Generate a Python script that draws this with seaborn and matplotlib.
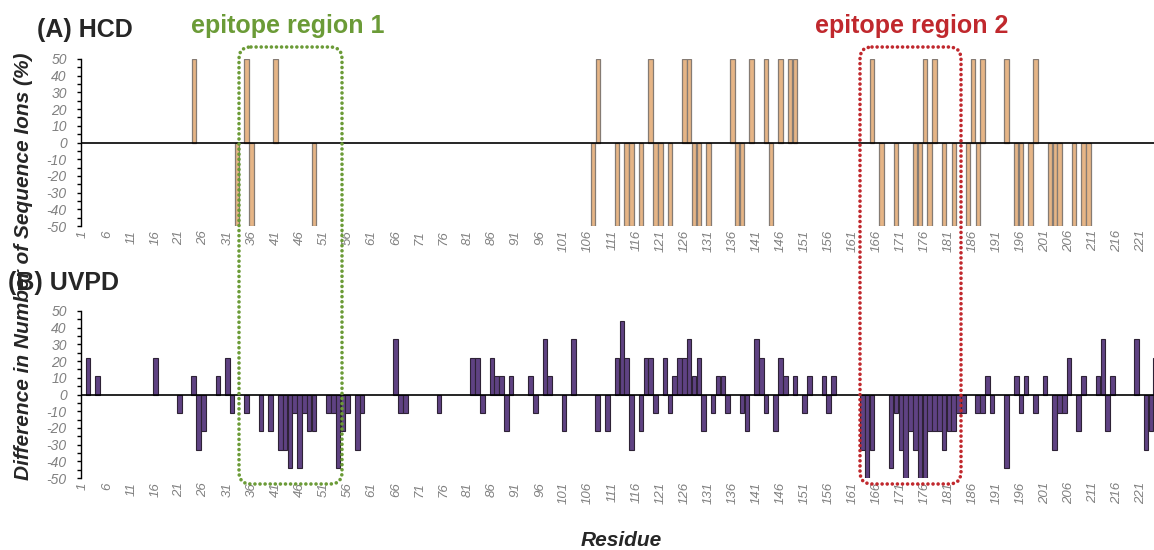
import numpy as np
import pandas as pd
import matplotlib.pyplot as plt
import seaborn as sns
from matplotlib.patches import FancyBboxPatch

# HCD: residues with +50 / -50 difference
hcd_up = [24, 35, 41, 108, 119, 126, 127, 136, 140, 143, 146, 148, 149,
          165, 176, 178, 186, 188, 193, 199]
hcd_down = [33, 36, 49, 107, 112, 114, 115, 117, 120, 121, 123, 128, 129,
            131, 137, 138, 144, 167, 170, 174, 175, 177, 180, 182, 185, 187,
            195, 196, 198, 202, 203, 204, 207, 209, 210]

# UVPD: residue -> difference (%)
uvpd_res = [2, 4, 16, 21, 24, 25, 26, 29, 31, 32, 35, 38, 40, 42, 43, 44, 45,
            46, 47, 48, 49, 52, 53, 54, 55, 56, 58, 59, 66, 67, 68, 75, 82,
            83, 84, 86, 87, 88, 89, 90, 94, 95, 97, 98, 101, 103, 108, 110,
            112, 113, 114, 115, 117, 118, 119, 120, 122, 123, 124, 125, 126,
            127, 128, 129, 130, 132, 133, 134, 135, 138, 139, 141, 142, 143,
            145, 146, 147, 149, 151, 152, 155, 156, 157, 163, 164, 165, 169,
            170, 171, 172, 173, 174, 175, 176, 177, 178, 179, 180, 181, 182,
            183, 184, 187, 188, 189, 190, 193, 195, 196, 197, 199, 201, 203,
            204, 205, 206, 208, 209, 212, 213, 214, 215, 220, 222, 223, 224]
uvpd_val = [22, 11, 22, -11, 11, -33, -22, 11, 22, -11, -11, -22, -22, -33,
            -33, -44, -11, -44, -11, -22, -22, -11, -11, -44, -22, -11, -33,
            -11, 33, -11, -11, -11, 22, 22, -11, 22, 11, 11, -22, 11, 11, -11,
            33, 11, -22, 33, -22, -22, 22, 44, 22, -33, -22, 22, 22, -11, 22,
            -11, 11, 22, 22, 33, 11, 22, -22, -11, 11, 11, -11, -11, -22, 33,
            22, -11, -22, 22, 11, 11, -11, 11, 11, -11, 11, -33, -50, -33,
            -44, -11, -33, -50, -22, -33, -50, -50, -22, -22, -22, -33, -22,
            -22, -11, -11, -11, -11, 11, -11, -44, 11, -11, 11, -11, 11, -33,
            -11, -11, 22, -22, 11, 11, 33, -22, 11, 33, -33, -22, 22]

tick_res = list(range(1, 222, 5))

hcd = pd.DataFrame({'res': hcd_up + hcd_down,
                    'val': [50] * len(hcd_up) + [-50] * len(hcd_down)})
uvpd = pd.DataFrame({'res': uvpd_res, 'val': uvpd_val})

sns.set_style('white')
plt.rcParams['font.family'] = ['Liberation Sans', 'DejaVu Sans']

W, H = 1154, 550
fig = plt.figure(figsize=(W / 100, H / 100), dpi=100)


def px_box(x0, y0, x1, y1):
    return [x0 / W, 1 - y1 / H, (x1 - x0) / W, (y1 - y0) / H]


x_right = 0.5 + (W - 80.7) / 4.81

ax_top = fig.add_axes(px_box(80.7, 59, W, 226))
ax_bot = fig.add_axes(px_box(80.7, 311, W, 478))

sns.barplot(data=hcd, x='res', y='val', native_scale=True, ax=ax_top,
            color='#e6b586', edgecolor='#857b73', linewidth=0.9,
            width=0.92, errorbar=None, saturation=1)
sns.barplot(data=uvpd, x='res', y='val', native_scale=True, ax=ax_bot,
            color='#5f4283', edgecolor='#2e2236', linewidth=0.8,
            width=0.95, errorbar=None, saturation=1)

for ax in (ax_top, ax_bot):
    ax.set_xlim(0.5, x_right)
    ax.set_ylim(-50, 50)
    ax.axhline(0, color='black', lw=1.2, zorder=3)
    ax.set_xticks(tick_res)
    ax.set_xticklabels([str(t) for t in tick_res], rotation=90,
                       fontstyle='italic', color='#808080', fontsize=9.5)
    ax.set_yticks(range(-50, 51, 10))
    ax.set_yticks(range(-45, 50, 10), minor=True)
    ax.set_yticklabels([str(t) for t in range(-50, 51, 10)],
                       fontstyle='italic', color='#808080', fontsize=10)
    ax.tick_params(axis='x', length=0, pad=3)
    ax.tick_params(axis='y', which='both', direction='out', length=3,
                   width=1, color='black', pad=7, left=True)
    for s in ('top', 'right', 'bottom'):
        ax.spines[s].set_visible(False)
    ax.spines['left'].set_color('black')
    ax.spines['left'].set_linewidth(1)
    ax.set_xlabel('')
    ax.set_ylabel('')
    ax.set_facecolor('none')

# overlay in pixel coordinates for labels and epitope boxes
ov = fig.add_axes([0, 0, 1, 1], facecolor='none')
ov.set_xlim(0, W)
ov.set_ylim(H, 0)
ov.axis('off')

ov.text(24, 266, 'Difference in Number of Sequence Ions (%)', fontsize=15,
        fontweight='bold', fontstyle='italic', rotation=90,
        ha='center', va='center')
ov.text(37, 30, '(A) HCD', fontsize=18, fontweight='bold', ha='left', va='center')
ov.text(8, 283, '(B) UVPD', fontsize=18, fontweight='bold', ha='left', va='center')
ov.text(288, 26, 'epitope region 1', fontsize=18, fontweight='bold',
        color='#6b9b37', ha='center', va='center')
ov.text(912, 26, 'epitope region 2', fontsize=18, fontweight='bold',
        color='#c0282d', ha='center', va='center')
ov.text(621, 540, 'Residue', fontsize=15, fontweight='bold',
        fontstyle='italic', ha='center', va='center')

for x0, x1, c in [(239, 342, '#6b9b37'), (860, 961, '#c0282d')]:
    p = FancyBboxPatch((x0, 47), x1 - x0, 484 - 47,
                       boxstyle='round,pad=0,rounding_size=12',
                       fill=False, edgecolor=c, lw=2.6,
                       linestyle=(0, (0.01, 1.4)))
    p.set_capstyle('round')
    ov.add_patch(p)

fig.savefig('out.png', dpi=100)
